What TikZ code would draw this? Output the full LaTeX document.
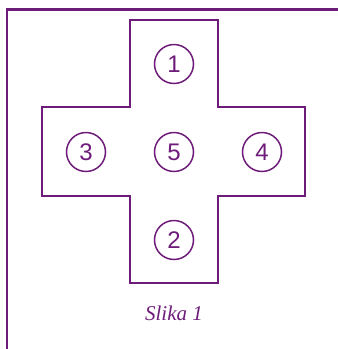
\documentclass[tikz,border=0pt]{standalone}
\usepackage{fontspec}
\setmainfont{Liberation Serif}
\newfontfamily\digitfont{Liberation Sans}
\definecolor{lila}{RGB}{110,28,122}
\begin{document}
\begin{tikzpicture}[x=1pt,y=-1pt,
  frame/.style={draw=lila,line width=2.3pt},
  crossline/.style={draw=lila,line width=1.8pt},
  num/.style={circle,draw=lila,line width=1.5pt,minimum size=39pt,inner sep=0pt,text=lila,font=\digitfont\fontsize{24}{24}\selectfont}]
\useasboundingbox (0,0) rectangle (338,349);
\draw[frame] (7,349) -- (7,9.5) -- (338,9.5);
\draw[crossline] (130,20) -- (218,20) -- (218,107) -- (305,107) -- (305,196) -- (218,196) -- (218,283) -- (130,283) -- (130,196) -- (42,196) -- (42,107) -- (130,107) -- cycle;
\node[num] (n1) at (174,64) {1};
\node[num] (n3) at (86,152) {3};
\node[num] (n5) at (174,152) {5};
\node[num] (n4) at (262,152) {4};
\node[num] (n2) at (174,240) {2};
\node[text=lila,font=\itshape\fontsize{21}{21}\selectfont] (cap) at (174,313) {Slika 1};
\end{tikzpicture}
\end{document}
